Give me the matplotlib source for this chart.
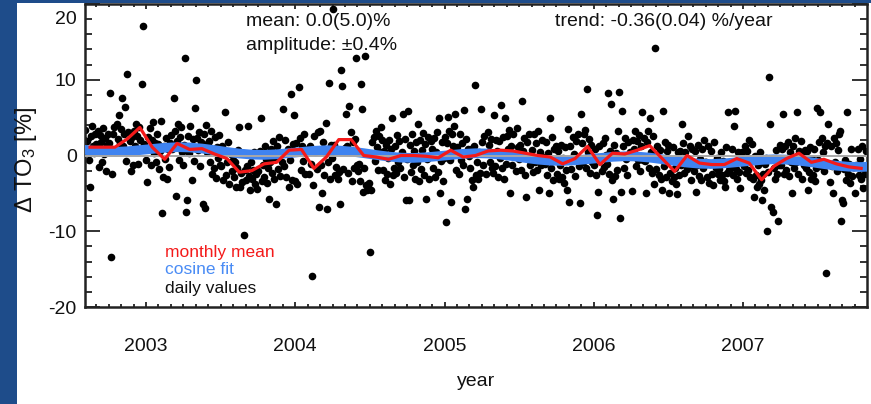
import matplotlib

matplotlib.use("Agg")
import matplotlib.pyplot as plt
from matplotlib.patches import Rectangle
from matplotlib.ticker import MultipleLocator, FixedLocator
from matplotlib.transforms import ScaledTranslation

plt.rcParams["font.family"] = ["Liberation Sans", "DejaVu Sans"]
plt.rcParams["mathtext.default"] = "regular"

# daily ozone deviations [%], 12 samples per month
daily_2002 = [  # Aug..Dec
    2.1, 3.4, 0.8, 1.9, -0.6, -4.2, 2.6, 3.9, 1.2, 0.3, 2.8, 1.5,
    0.4, 3.2, -1.5, 2.7, 1.8, -0.9, 3.6, 0.2, 2.3, -2.1, 1.4, 2.9,
    1.6, 8.3, -13.4, -2.4, 2.9, 3.8, 0.5, 4.1, 2.2, 5.3, 1.7, 3.5,
    7.6, 1.3, 2.8, 6.4, -0.7, 10.7, 3.1, 0.6, 1.9, -2.0, 2.4, -1.3,
    3.3, 1.2, 4.1, 2.6, -1.1, 3.7, 2.0, 0.8, 9.5, 17.1, 1.5, -0.6,
]
daily_2003 = [
    -3.5, 2.4, 0.9, 3.6, -1.2, 2.1, 4.4, 0.3, 1.7, -0.8, 2.9, 1.5,
    -1.8, 0.6, 4.6, -7.6, -2.9, 1.2, -0.4, 2.3, -3.1, 0.9, -1.5, 1.7,
    2.7, 0.8, 7.6, 3.3, -5.3, 1.9, 4.2, -0.6, 2.5, 3.8, 0.4, -1.2,
    1.4, 12.9, -7.5, -5.9, 2.6, 0.3, 3.9, 1.1, -3.3, 2.2, -0.7, 6.3,
    10.0, 2.3, 0.7, 3.1, -1.4, 1.8, -6.4, 2.9, -6.9, 4.0, 0.5, 1.6,
    1.9, -0.8, 3.2, -2.5, 0.6, -1.7, 2.4, -3.0, 1.1, -0.3, 2.7, -1.2,
    -1.4, 1.2, -3.3, 0.4, 5.7, -2.6, -0.9, 1.8, -3.8, 0.2, -2.1, -0.6,
    -2.8, -0.9, -4.1, -1.6, 0.7, 3.8, -4.2, -2.3, -3.5, 0.3, -10.5, -1.9,
    -3.2, -1.4, 3.9, -2.7, -4.6, -0.8, -3.1, -1.9, 0.4, -3.7, -2.5, -4.4,
    -2.1, 0.6, 4.9, -3.4, -1.2, -2.8, 1.3, -0.5, -3.6, -1.7, -5.7, -0.9,
    0.8, -2.3, 1.9, -3.1, -0.4, -6.4, 1.2, -1.8, 2.5, -2.7, 0.3, -0.9,
    6.2, -1.4, 2.1, -2.8, 0.9, -4.2, -0.6, 8.1, -3.3, 1.5, 5.3, -3.4,
]
daily_2004 = [
    1.6, -3.8, 0.4, 9.1, 2.3, -1.9, 1.2, -0.7, 2.8, -2.4, 0.6, 0.4,
    0.9, -2.4, 1.3, -1.1, -15.9, -3.9, 2.6, 0.4, -1.8, 3.1, -6.8, 3.2,
    -1.3, -4.9, 1.8, -2.6, 0.5, 4.3, -7.0, -0.8, 9.6, -3.1, 1.4, -0.3,
    19.3, 1.4, -2.6, -1.5, 0.7, -3.1, -2.2, -6.4, 11.3, 9.2, -1.8, 1.0,
    5.5, 1.2, -2.3, 6.6, 0.4, 3.1, -3.4, 1.8, -1.6, 2.2, 12.9, -1.2,
    -2.1, -1.1, -3.4, 9.5, 6.2, -4.8, -1.6, 13.2, -3.9, -4.6, -4.2, -3.6,
    -12.8, -4.6, 1.8, 2.4, -0.7, 3.3, 1.1, -1.9, 2.6, 0.5, 3.8, 2.1,
    -1.9, 0.6, -3.2, 1.4, -2.4, -0.3, 2.1, -3.7, 0.8, 4.9, -2.6, -1.7,
    1.2, -2.3, 2.7, -0.8, 1.9, -1.6, 0.4, 5.5, -2.9, 2.2, -5.9, -0.4,
    5.9, -5.9, 1.4, -2.2, 2.9, -1.3, 0.6, -3.1, 1.8, -0.9, 4.2, -3.4,
    2.1, -1.8, 0.7, 3.0, -2.6, 1.5, -5.7, -0.4, 2.4, -3.1, 1.9, 0.8,
    -1.6, 2.3, -2.9, 0.4, 3.1, -2.2, 4.9, -5.0, -0.7, 1.8, -3.4, -0.3,
]
daily_2005 = [
    2.4, -8.8, 1.6, 5.1, 3.2, -0.6, -6.1, 2.8, 1.3, 3.9, 5.5, -1.9,
    1.1, -2.4, 2.9, -0.6, 1.7, -1.3, 6.0, -7.1, 2.2, -5.7, 0.8, -0.1,
    -1.7, 0.9, -3.3, -4.2, 1.2, 9.3, -2.6, -0.8, -3.1, 0.4, -2.3, 6.2,
    1.8, -1.2, 2.6, 0.3, -2.4, 3.1, 1.4, -0.9, 2.2, -1.7, -2.3, 5.3,
    -1.4, 2.1, 0.6, -2.8, 1.9, -0.3, 6.7, -1.6, 2.4, -3.1, 5.0, -1.1,
    2.6, 0.9, 3.4, -4.9, 1.3, -1.2, 2.8, 0.2, -2.1, 3.6, 1.1, -0.5,
    1.4, -1.9, 7.2, 0.6, 2.3, -2.6, -5.5, 1.8, -0.4, 2.9, -1.3, -0.9,
    0.7, -2.2, 2.9, -0.8, 1.6, -1.9, 3.3, -4.6, 0.4, -1.3, 2.1, -0.2,
    -1.1, 1.8, -2.6, 0.3, -4.9, 5.0, -1.7, 2.4, -3.2, 0.9, -0.6, 1.3,
    -2.4, 0.6, -3.1, -1.2, 1.4, -2.8, -0.3, -3.6, 1.1, -1.9, -4.5, 3.5,
    -6.1, 1.3, -1.8, 2.4, 0.2, -2.7, 1.9, -0.6, 2.8, -1.4, -6.3, 5.5,
    1.6, -0.8, 2.9, 3.4, -1.7, 8.8, 0.5, 2.2, -2.3, 1.4, -0.9, -0.7,
]
daily_2006 = [
    -1.3, 0.9, -2.6, -7.9, -4.8, 1.2, -0.4, -2.1, 1.7, -1.5, 2.3, 0.1,
    -1.1, 8.3, -2.4, 0.6, 6.8, -3.2, -5.8, 1.4, -2.7, 0.3, -1.9, 3.3,
    8.4, -8.3, -4.8, 5.9, 1.2, -1.7, 2.3, -0.5, -2.6, 1.8, 0.4, 0.3,
    -4.7, 2.1, 0.8, 3.3, -1.4, 1.9, -0.6, 2.7, -2.1, 1.2, 5.8, -0.6,
    2.3, -0.7, -4.9, 1.8, 3.2, -1.6, 4.9, 0.4, -2.3, 2.6, -3.8, 14.2,
    -1.8, 1.2, -2.6, 0.7, -3.1, -4.6, 5.9, -1.4, 1.8, -2.9, 0.6, 1.4,
    -5.0, -2.3, -0.6, -3.4, 1.1, -2.9, -1.7, -3.8, -5.1, 0.4, -2.6, 0.6,
    -1.2, 4.1, 1.6, -2.3, 0.4, -1.8, 2.6, -0.9, 1.3, -3.2, 0.8, -1.4,
    -2.1, 0.6, -4.8, -1.3, 1.4, -2.7, -0.4, -3.3, 0.9, -1.6, 2.1, -0.8,
    -0.9, -2.8, 1.3, -3.6, -1.1, 0.6, -2.4, -3.9, 1.8, -1.7, -0.3, -2.4,
    -1.8, -3.2, 0.4, -2.6, -0.7, -3.4, -4.1, 1.1, -2.3, 5.7, -1.9, -1.6,
    -1.3, 0.8, -2.6, 3.9, 5.9, -1.8, -3.1, 0.4, -2.2, -4.3, -0.9, 0.4,
]
daily_2007 = [  # Jan..Oct
    -1.4, 1.2, -2.3, 0.6, -1.9, 2.1, -2.8, -0.4, 1.5, -3.1, -5.5, 0.0,
    -2.6, -4.1, -1.3, -3.8, 0.4, -3.2, -5.9, -2.4, -4.6, -1.1, -0.3, -10.0,
    -2.2, 10.4, 4.2, -6.8, -7.5, -1.6, -3.1, 0.7, -2.4, -8.6, -1.3, 1.4,
    -1.2, 0.9, 5.5, -2.4, 1.3, -1.9, -0.6, 1.8, -2.7, 0.4, -0.9, -5.0,
    1.2, -1.6, 2.3, -0.8, 5.7, -2.4, 0.6, 1.9, -3.1, 0.3, -1.2, 0.7,
    -1.7, 0.6, -4.6, -2.2, 1.1, -3.1, -0.4, -2.6, 0.8, -3.4, -1.6, 6.3,
    -0.6, 1.8, 5.7, -1.4, 2.3, 0.4, -2.1, 1.2, -15.5, 1.6, 4.1, -3.5,
    1.2, -1.4, -5.0, 2.3, -0.8, 1.6, -2.1, 0.7, 2.8, 3.2, -8.7, -5.9,
    -6.3, -1.8, -0.6, -3.2, 5.8, -2.4, -1.1, -3.6, 0.9, -2.7, -1.5, -1.5,
    -5.0, -1.2, 0.8, -2.6, -0.4, -3.1, 1.3, -4.3, -1.8, -2.4, 0.6, -2.3,
]

# monthly means, Aug 2002 .. Oct 2007
monthly_mean = [
    1.1, 1.1, 1.1, 2.2, 3.7,
    1.1, -0.5, 1.6, 0.8, 0.9, 0.2, -0.4, -2.2, -2.0, -1.1, -0.9, 0.7,
    0.8, -1.7, -0.2, 2.1, 2.1, 0.0, -0.2, -0.5, 0.0, 0.0, -0.1, -0.3,
    0.7, -0.2, 0.0, 0.6, 0.7, 0.6, 0.3, 0.0, -0.2, -1.1, -0.4, 1.2,
    -1.2, 0.3, 0.2, 0.7, 1.3, -0.4, -2.1, 0.0, -1.0, -1.2, -1.2, -0.4,
    -1.0, -3.2, -1.4, -0.4, 0.3, -0.9, -0.5, -1.1, -1.5, -1.7,
]

# cosine fit (annual cycle + trend), Jul 2002 .. Nov 2007
cosine_fit = [
    0.87, 0.66, 0.52, 0.48, 0.56, 0.71,
    0.87, 1.02, 1.10, 1.06, 0.92, 0.71, 0.47, 0.26, 0.12, 0.08, 0.16, 0.31,
    0.47, 0.62, 0.70, 0.66, 0.52, 0.31, 0.07, -0.14, -0.28, -0.32, -0.24, -0.09,
    0.07, 0.22, 0.30, 0.26, 0.12, -0.09, -0.33, -0.54, -0.68, -0.72, -0.64, -0.49,
    -0.33, -0.18, -0.10, -0.14, -0.28, -0.49, -0.73, -0.94, -1.08, -1.12, -1.04, -0.89,
    -0.73, -0.58, -0.50, -0.54, -0.68, -0.89, -1.13, -1.34, -1.48, -1.52, -1.44,
]

year_ticks = [2003, 2004, 2005, 2006, 2007]
y_ticks = [-20, -10, 0, 10, 20]


def daily_times(year, first_month, values):
    """Decimal-year time stamps for 12 samples per month."""
    times = []
    for n in range(len(values)):
        month, slot = divmod(n, 12)
        times.append(year + (first_month - 1 + month + (slot + 0.5) / 12) / 12)
    return times


def month_centres(year, first_month, count):
    return [year + (first_month - 1 + k + 0.5) / 12 for k in range(count)]


segments = [(2002, 8, daily_2002), (2003, 1, daily_2003), (2004, 1, daily_2004),
            (2005, 1, daily_2005), (2006, 1, daily_2006), (2007, 1, daily_2007)]
t_daily, v_daily = [], []
for year, first, vals in segments:
    t_daily += daily_times(year, first, vals)
    v_daily += vals

t_month = month_centres(2002, 8, len(monthly_mean))
t_fit = month_centres(2002, 7, len(cosine_fit))

W, H = 871, 404
fig = plt.figure(figsize=(W / 100, H / 100), dpi=100)
fig.patch.set_facecolor("#1e4c8a")
fig.add_artist(Rectangle((17 / W, 0), 1 - 17 / W, 1 - 3 / H,
                         transform=fig.transFigure, facecolor="white",
                         edgecolor="none", zorder=0))

ax = fig.add_axes([85 / W, 1 - 307 / H, (867 - 85) / W, (307 - 4) / H])
ax.set_facecolor("white")

ax.plot(t_daily, v_daily, "o", color="black", markersize=5.5,
        markeredgewidth=0, zorder=2)
ax.plot(t_fit, cosine_fit, color="#3f83f0", linewidth=7, zorder=3,
        solid_capstyle="butt")
ax.axhline(0, color="#a8a8a8", linewidth=1.4, zorder=4)
ax.plot(t_month, monthly_mean, color="#f41a1a", linewidth=2.3, zorder=5)

ax.set_xlim(2002.591, 2007.831)
ax.set_ylim(-20, 20)

ax.xaxis.set_major_locator(FixedLocator(year_ticks))
ax.xaxis.set_minor_locator(MultipleLocator(1 / 12))
ax.yaxis.set_major_locator(FixedLocator(y_ticks))
ax.yaxis.set_minor_locator(MultipleLocator(2))
ax.set_xticklabels([str(y) for y in year_ticks])
ax.set_yticklabels([str(v) if v != 20 else "" for v in y_ticks])

ax.tick_params(which="both", direction="in", top=True, right=True,
               color="#222222", width=1.3, labelsize=14, labelcolor="#111111")
ax.tick_params(axis="x", which="major", length=3.8, pad=22)
ax.tick_params(axis="x", which="minor", length=2.0)
ax.tick_params(axis="y", which="major", length=10.8, pad=6)
ax.tick_params(axis="y", which="minor", length=5.2)
for side in ax.spines.values():
    side.set_linewidth(1.8)
    side.set_color("#222222")

# top label sits a little below its tick
ax.text(0, 20, "20", fontsize=14, color="#111111", ha="right", va="center",
        transform=ax.get_yaxis_transform()
        + ScaledTranslation(-6 / 72, -15 / 100, fig.dpi_scale_trans))

fig.text(476 / W, 1 - 381 / H, "year", fontsize=14, ha="center", va="center",
         color="#111111")
fig.text(26 / W, 1 - 160 / H, "Δ TO$_3$ [%]", fontsize=17, rotation=90,
         ha="center", va="center", color="#111111")

fig.text(246 / W, 1 - 22 / H, "mean: 0.0(5.0)%", fontsize=14, va="center",
         color="#111111")
fig.text(246 / W, 1 - 45 / H, "amplitude: ±0.4%", fontsize=14, va="center",
         color="#111111")
fig.text(555 / W, 1 - 22 / H, "trend: -0.36(0.04) %/year", fontsize=14,
         va="center", color="#111111")

fig.text(165 / W, 1 - 252 / H, "monthly mean", fontsize=12.5, va="center",
         color="#f41a1a")
fig.text(165 / W, 1 - 270 / H, "cosine fit", fontsize=12.5, va="center",
         color="#4a8cf5")
fig.text(165 / W, 1 - 288 / H, "daily values", fontsize=12.5, va="center",
         color="#111111")

fig.savefig("out.png", dpi=100, facecolor=fig.get_facecolor())
